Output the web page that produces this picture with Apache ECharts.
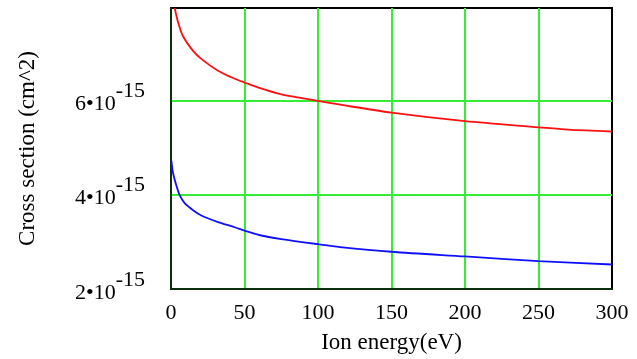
<!DOCTYPE html>
<html>
<head>
<meta charset="utf-8">
<script src="https://cdn.jsdelivr.net/npm/echarts@6/dist/echarts.min.js"></script>
<style>
html,body{margin:0;padding:0;background:#fff;}
#chart{width:637px;height:359px;}
</style>
</head>
<body>
<div id="chart"></div>
<script>
// Ion energy (eV) and cross sections, in units of 1e-15 cm^2
var energyRed = [2.5, 4.8, 8.2, 15, 20.6, 32, 43.4, 50, 60.6, 75, 100, 115, 150, 200, 250, 270, 300];
var sigmaRed  = [7.96, 7.66, 7.36, 7.05, 6.88, 6.63, 6.46, 6.38, 6.26, 6.13, 5.99, 5.91, 5.74, 5.56, 5.43, 5.38, 5.34];
var energyBlue = [0.3, 1.4, 3.6, 5.9, 9.3, 15, 20.6, 32, 43.4, 50, 60.6, 75, 100, 115, 150, 200, 250, 300];
var sigmaBlue  = [4.72, 4.46, 4.20, 3.99, 3.82, 3.67, 3.56, 3.42, 3.31, 3.24, 3.14, 3.06, 2.95, 2.89, 2.79, 2.69, 2.59, 2.52];
var xTicks = [0, 50, 100, 150, 200, 250, 300];
var yTickMantissas = [2, 4, 6];
var yExponent = '-15';

function pairs(xs, ys) { return xs.map(function (x, i) { return [x, ys[i]]; }); }

var chart = echarts.init(document.getElementById('chart'), null, {renderer: 'canvas'});
var serif = '"Liberation Serif", "Times New Roman", serif';
chart.setOption({
  backgroundColor: '#fff',
  animation: false,
  grid: {left: 171, right: 25, top: 8, bottom: 67, show: true, borderColor: '#000', borderWidth: 2, backgroundColor: 'transparent'},
  xAxis: {
    type: 'value', min: xTicks[0], max: xTicks[xTicks.length - 1], interval: 50,
    name: 'Ion energy(eV)', nameLocation: 'middle', nameGap: 42,
    nameTextStyle: {fontFamily: serif, fontSize: 23, color: '#000'},
    axisLine: {show: true, lineStyle: {color: '#0d2e0d', width: 2}},
    axisTick: {show: false},
    axisLabel: {fontFamily: serif, fontSize: 22, color: '#000', margin: 13},
    splitLine: {show: true, showMinLine: false, showMaxLine: false, lineStyle: {color: '#33ee33', width: 2}}
  },
  yAxis: {
    type: 'value', min: 2, max: 7.96, interval: 2,
    name: 'Cross section (cm^2)', nameLocation: 'middle', nameGap: 132, nameRotate: 90,
    nameTextStyle: {fontFamily: serif, fontSize: 23, color: '#000'},
    axisLine: {show: true, lineStyle: {color: '#0d2e0d', width: 2}},
    axisTick: {show: false},
    axisLabel: {
      margin: 26, showMaxLabel: false, padding: [8, 0, 0, 0],
      formatter: function (v) {
        if (yTickMantissas.indexOf(Math.round(v * 100) / 100) < 0) return '';
        return '{a|' + v + '\u2022' + '10}{b|' + yExponent + '}';
      },
      rich: {
        a: {fontFamily: serif, fontSize: 22, color: '#000', lineHeight: 22, verticalAlign: 'bottom'},
        b: {fontFamily: serif, fontSize: 22, color: '#000', lineHeight: 22, padding: [0, 0, 13, 0], verticalAlign: 'bottom'}
      }
    },
    splitLine: {show: true, showMinLine: false, showMaxLine: false, lineStyle: {color: '#33ee33', width: 2}}
  },
  series: [
    {type: 'line', data: pairs(energyRed, sigmaRed), smooth: 0.3, showSymbol: false,
     lineStyle: {color: '#ff1010', width: 1.8}, clip: true, z: 3},
    {type: 'line', data: pairs(energyBlue, sigmaBlue), smooth: 0.3, showSymbol: false,
     lineStyle: {color: '#1010ff', width: 1.8}, clip: true, z: 3}
  ]
});
</script>
</body>
</html>
